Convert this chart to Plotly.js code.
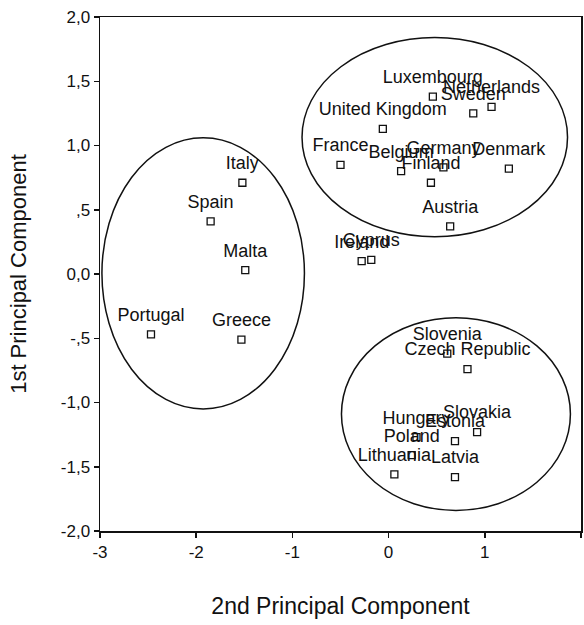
<!DOCTYPE html>
<html>
<head>
<meta charset="utf-8">
<script src="https://cdn.plot.ly/plotly-3.0.1.min.js"></script>
<style>html,body{margin:0;padding:0;background:#fff;}#chart{width:584px;height:625px;}</style>
</head>
<body>
<div id="chart"></div>
<script>
// Country labels
var countries = ["Italy","Spain","Malta","Portugal","Greece",
  "Luxembourg","Netherlands","Sweden","United Kingdom","France","Belgium","Germany","Denmark","Finland","Austria",
  "Ireland","Cyprus",
  "Slovenia","Czech Republic","Slovakia","Estonia","Hungary","Poland","Lithuania","Latvia"];
// 2nd principal component (x)
var pc2 = [-1.52,-1.85,-1.49,-2.47,-1.53,
  0.46,1.07,0.88,-0.06,-0.50,0.13,0.57,1.25,0.44,0.64,
  -0.28,-0.18,
  0.61,0.82,0.92,0.69,0.29,0.24,0.06,0.69];
// 1st principal component (y)
var pc1 = [0.71,0.41,0.03,-0.47,-0.51,
  1.38,1.30,1.25,1.13,0.85,0.80,0.83,0.82,0.71,0.37,
  0.10,0.11,
  -0.62,-0.74,-1.23,-1.30,-1.27,-1.41,-1.56,-1.58];
// Cluster ellipse bounds (data units)
var clusterX0 = [-2.98,-0.90,-0.49];
var clusterX1 = [-0.875,1.86,1.89];
var clusterY0 = [-1.05,0.29,-1.84];
var clusterY1 = [1.06,1.84,-0.34];
// Tick labels
var yTickVals = [-2,-1.5,-1,-0.5,0,0.5,1,1.5,2];
var yTickText = ["-2,0","-1,5","-1,0","-,5","0,0",",5","1,0","1,5","2,0"];
var xTickVals = [-3,-2,-1,0,1,2];
var xTickText = ["-3","-2","-1","0","1","2"];

var FONT = "Liberation Sans, Arial, sans-serif";

var labels = {
  x: pc2, y: pc1, text: countries, mode: "markers+text", type: "scatter",
  textposition: "top center",
  textfont: {family: FONT, size: 18, color: "#111"},
  marker: {size: 13, color: "rgba(0,0,0,0)", line: {width: 0}},
  hoverinfo: "skip", showlegend: false, cliponaxis: false
};
var pts = {
  x: pc2, y: pc1, mode: "markers", type: "scatter",
  marker: {symbol: "square-open", size: 7, color: "#111", line: {width: 1.3, color: "#111"}},
  showlegend: false
};

var shapes = [];
for (var i = 0; i < clusterX0.length; i++) {
  shapes.push({type: "circle", xref: "x", yref: "y",
    x0: clusterX0[i], x1: clusterX1[i], y0: clusterY0[i], y1: clusterY1[i],
    line: {color: "#111", width: 1.5}});
}

var layout = {
  width: 584, height: 625,
  margin: {l: 100, r: 3, t: 17, b: 94},
  paper_bgcolor: "#fff", plot_bgcolor: "#fff",
  showlegend: false,
  font: {family: FONT, color: "#111"},
  xaxis: {
    range: [-3, 2], tickvals: xTickVals, ticktext: xTickText,
    ticks: "outside", ticklen: 5, tickcolor: "#111", tickwidth: 1.5,
    showline: true, linecolor: "#111", linewidth: 1.5, mirror: true,
    showgrid: false, zeroline: false,
    tickfont: {family: FONT, size: 17, color: "#111"},
    title: {text: "2nd Principal Component", font: {family: FONT, size: 23, color: "#111"}, standoff: 37}
  },
  yaxis: {
    range: [-2, 2], tickvals: yTickVals, ticktext: yTickText,
    ticks: "outside", ticklen: 5, tickcolor: "#111", tickwidth: 1.5,
    showline: true, linecolor: "#111", linewidth: 1.5, mirror: true,
    showgrid: false, zeroline: false,
    tickfont: {family: FONT, size: 17, color: "#111"},
    title: {text: "1st Principal Component", font: {family: FONT, size: 22, color: "#111"}, standoff: 28}
  },
  shapes: shapes
};

Plotly.newPlot("chart", [labels, pts], layout, {displayModeBar: false, staticPlot: true});
</script>
</body>
</html>
